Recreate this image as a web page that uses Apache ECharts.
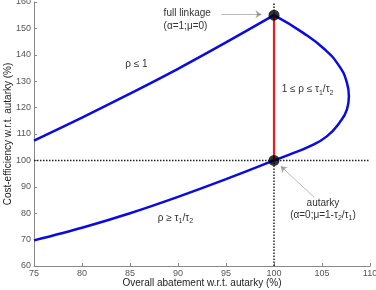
<!DOCTYPE html>
<html>
<head>
<meta charset="utf-8">
<script src="https://cdn.jsdelivr.net/npm/echarts@6/dist/echarts.min.js"></script>
<style>
  html, body { margin: 0; padding: 0; background: #fff; }
  #chart { width: 376px; height: 290px; }
</style>
</head>
<body>
<div id="chart"></div>
<script>
// values (x = abatement %, y = cost-efficiency %)
const upperBranch = [[75, 107.5], [80, 116.2], [85, 125.3], [90, 134.7], [95, 144.7], [100, 155]]
const lowerBranch = [[75, 69.7], [80, 74.5], [85, 80.0], [90, 86.2], [95, 92.9], [100, 100]]
const midBranch = [[100, 155], [103, 148.4], [105.3, 142], [106.8, 135.7], [107.6, 129.4],
  [107.8, 124.3], [107.6, 119.3], [106.8, 114.2], [105.5, 109.1], [103.7, 105.3],
  [101.6, 102.2], [100, 100]]
const redSegment = [[100, 100], [100, 155]]
const keyPoints = [[100, 155], [100, 100]]
const refHorizontal = [[75, 100], [110, 100]]
const refVertical = [[100, 60], [100, 160]]
const arrows = [
  { coords: [[94.5, 155.4], [98.7, 155.4]] },
  { coords: [[104.2, 86], [100.7, 97.8]] }
]

const blue = '#0a0ae8'
const font = '"Liberation Sans", Arial, sans-serif'

const chart = echarts.init(document.getElementById('chart'))

const dotted = data => ({
  type: 'line', data, symbol: 'none', silent: true,
  lineStyle: { color: '#222', width: 1.5, type: [1.5, 1.5] }
})
const curve = (data, smooth) => ({
  type: 'line', data, symbol: 'none', smooth,
  lineStyle: { color: blue, width: 2.5 }
})

chart.setOption({
  animation: false,
  grid: { left: 34, right: 6, top: 2, bottom: 24, outerBoundsMode: 'none', containLabel: false },
  xAxis: {
    type: 'value', min: 75, max: 110, interval: 5,
    name: 'Overall abatement w.r.t. autarky (%)',
    nameLocation: 'middle', nameGap: 12, nameMoveOverlap: false,
    nameTextStyle: { fontFamily: font, fontSize: 10, color: '#222' },
    axisLine: { lineStyle: { color: '#888' } },
    axisTick: { inside: true, length: 3, lineStyle: { color: '#888' } },
    axisLabel: { fontFamily: font, fontSize: 9, color: '#555', margin: 3 },
    splitLine: { show: false }
  },
  yAxis: {
    type: 'value', min: 60, max: 160, interval: 10,
    name: 'Cost-efficiency w.r.t. autarky (%)',
    nameLocation: 'middle', nameGap: 21, nameRotate: 90, nameMoveOverlap: false,
    nameTextStyle: { fontFamily: font, fontSize: 10, color: '#222' },
    axisLine: { show: true, lineStyle: { color: '#888' } },
    axisTick: { show: true, inside: true, length: 3, lineStyle: { color: '#888' } },
    axisLabel: { fontFamily: font, fontSize: 9, color: '#555', margin: 3 },
    splitLine: { show: false }
  },
  series: [
    dotted(refHorizontal),
    dotted(refVertical),
    curve(upperBranch, 0.3),
    curve(midBranch, 0.5),
    curve(lowerBranch, 0.3),
    {
      type: 'line', data: redSegment, symbol: 'none',
      lineStyle: { color: '#ee1c1c', width: 2.2 }
    },
    {
      type: 'lines', coordinateSystem: 'cartesian2d', data: arrows,
      symbol: ['none', 'arrow'], symbolSize: 6,
      lineStyle: { color: '#555', width: 0.8 }
    },
    {
      type: 'scatter', data: keyPoints, symbolSize: 11,
      itemStyle: { color: '#000' }, z: 5
    }
  ]
})

// text notes, anchored in data coordinates
const notes = [
  { at: [88.5, 155.6], text: 'full linkage', align: 'left' },
  { at: [88.5, 150.8], text: '(α=1;μ=0)', align: 'left' },
  { at: [84.5, 136.4], text: 'ρ ≤ 1', align: 'left' },
  { at: [87.9, 78.2], text: 'ρ ≥ τ{s|1}/τ{s|2}', align: 'left' },
  { at: [100.8, 126.9], text: '1 ≤ ρ ≤ τ{s|1}/τ{s|2}', align: 'left' },
  { at: [105.1, 83.7], text: 'autarky', align: 'center' },
  { at: [105.1, 79.4], text: '(α=0;μ=1-τ{s|2}/τ{s|1})', align: 'center' }
]

chart.setOption({
  graphic: notes.map(n => {
    const p = chart.convertToPixel({ gridIndex: 0 }, n.at)
    return {
      type: 'text', x: p[0], y: p[1], z: 10,
      style: {
        text: n.text, fill: '#333', font: '10px ' + font,
        fontFamily: font, fontSize: 10, lineHeight: 14,
        align: n.align, verticalAlign: 'middle',
        rich: { s: { fontFamily: font, fontSize: 7, lineHeight: 8, verticalAlign: 'bottom', fill: '#333' } }
      }
    }
  })
})
</script>
</body>
</html>
